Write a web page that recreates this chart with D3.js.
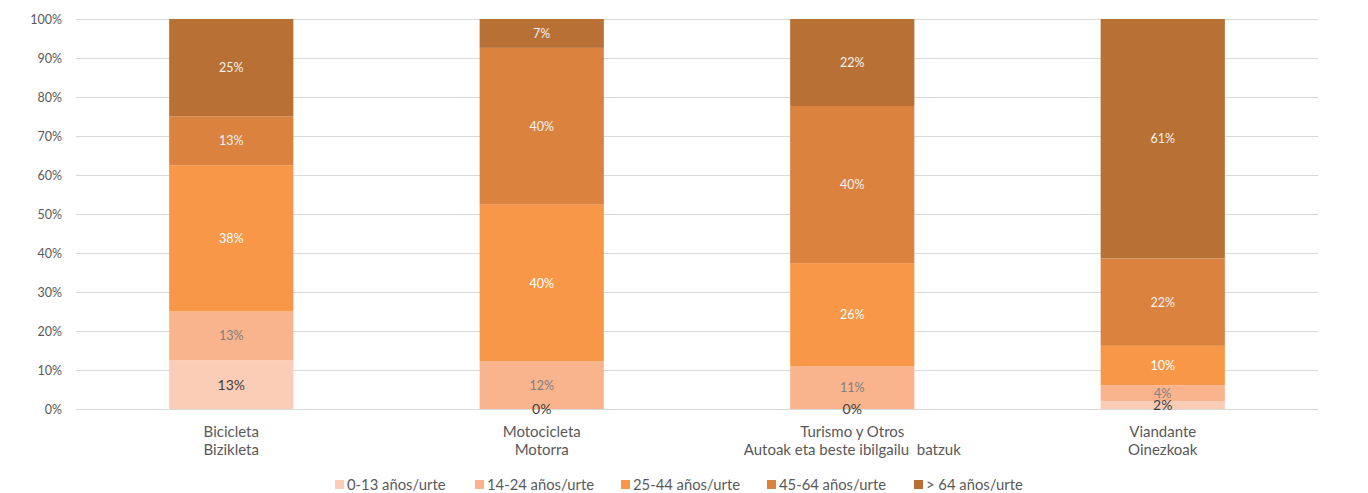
<!DOCTYPE html>
<html>
<head>
<meta charset="utf-8">
<script src="https://cdn.jsdelivr.net/npm/d3@7"></script>
<style>
  html, body { margin: 0; padding: 0; background: #fff; }
  svg text { font-family: Lato, "Open Sans", sans-serif; white-space: pre; }
</style>
</head>
<body>
<svg id="chart" width="1368" height="493"></svg>
<script>
const categories = [
  ["Bicicleta", "Bizikleta"],
  ["Motocicleta", "Motorra"],
  ["Turismo y Otros", "Autoak eta beste ibilgailu  batzuk"],
  ["Viandante", "Oinezkoak"]
];
const seriesNames = ["0-13 años/urte", "14-24 años/urte", "25-44 años/urte", "45-64 años/urte", "> 64 años/urte"];
const s0_13  = [12.5, 0,    0,    2.0];
const s14_24 = [12.5, 12.2, 11.0, 4.1];
const s25_44 = [37.5, 40.2, 26.4, 10.1];
const s45_64 = [12.5, 40.2, 40.3, 22.4];
const s64    = [25.0, 7.4,  22.3, 61.4];
const yTicks = [0, 10, 20, 30, 40, 50, 60, 70, 80, 90, 100];

const seriesValues = [s0_13, s14_24, s25_44, s45_64, s64];
const colors = ["#FBCDB6", "#F9B48E", "#F79747", "#DB823F", "#B87034"];
const labelColors = ["#404040", "#7F7F7F", "#FFFFFF", "#F2F2F2", "#F2F2F2"];
const labelSizes = [14, 12.5, 12.5, 12.5, 12.5];

const rows = categories.map((c, i) => {
  const r = { key: i };
  seriesNames.forEach((s, j) => r[s] = seriesValues[j][i]);
  return r;
});
const stack = d3.stack().keys(seriesNames)(rows);

const svg = d3.select("#chart");
const pLeft = 76, pRight = 1318, pTop = 19, pBottom = 409;

const x = d3.scaleBand().domain(d3.range(categories.length)).range([pLeft, pRight]).paddingInner(0.6).paddingOuter(0.3);
const y = d3.scaleLinear().domain([0, 100]).range([pBottom, pTop]);

// gridlines
svg.append("g").selectAll("line").data(yTicks).join("line")
  .attr("x1", pLeft).attr("x2", pRight)
  .attr("y1", d => Math.round(y(d)) + 0.5).attr("y2", d => Math.round(y(d)) + 0.5)
  .attr("stroke", "#D9D9D9").attr("stroke-width", 1);

// y axis labels
const yAxis = d3.axisLeft(y).tickValues(yTicks).tickFormat(d => d + "%").tickSize(0).tickPadding(14);
const ya = svg.append("g").attr("transform", `translate(${pLeft},0)`).call(yAxis);
ya.select(".domain").remove();
ya.selectAll("text").attr("fill", "#595959").style("font-size", "12.5px").style("font-family", "Lato, sans-serif");

// bars
stack.forEach((layer, j) => {
  svg.append("g").selectAll("rect").data(layer).join("rect")
    .attr("x", (d, i) => x(i))
    .attr("width", x.bandwidth())
    .attr("y", d => y(d[1]))
    .attr("height", d => y(d[0]) - y(d[1]))
    .attr("fill", colors[j]);
});

// labels
stack.forEach((layer, j) => {
  svg.append("g").selectAll("text").data(layer).join("text")
    .attr("x", (d, i) => x(i) + x.bandwidth() / 2)
    .attr("y", d => (y(d[0]) + y(d[1])) / 2)
    .attr("dy", "0.36em")
    .attr("text-anchor", "middle")
    .attr("fill", labelColors[j])
    .style("font-size", labelSizes[j] + "px")
    .text(d => Math.round(d[1] - d[0]) + "%");
});

// x axis category labels
const xa = svg.append("g");
categories.forEach((c, i) => {
  const t = xa.append("text")
    .attr("x", x(i) + x.bandwidth() / 2)
    .attr("y", 437)
    .attr("text-anchor", "middle")
    .attr("fill", "#595959")
    .style("font-size", "15px");
  c.forEach((line, k) => {
    t.append("tspan").attr("x", x(i) + x.bandwidth() / 2).attr("dy", k === 0 ? 0 : "1.22em").text(line);
  });
});

// legend
const legendX = [335, 475, 621, 767, 914];
const lg = svg.append("g");
seriesNames.forEach((s, j) => {
  lg.append("rect").attr("x", legendX[j]).attr("y", 480).attr("width", 9).attr("height", 9).attr("fill", colors[j]);
  lg.append("text").attr("x", legendX[j] + 12).attr("y", 485).attr("dy", "0.36em")
    .attr("fill", "#595959").style("font-size", "14.8px").text(s);
});
</script>
</body>
</html>
